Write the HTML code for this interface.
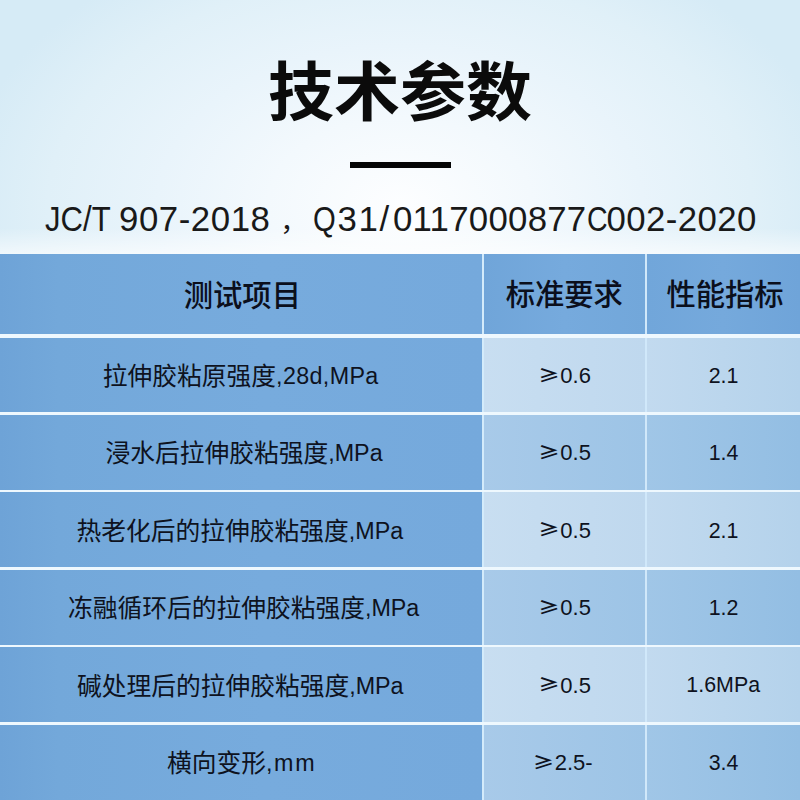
<!DOCTYPE html>
<html lang="zh-CN">
<head>
<meta charset="utf-8">
<title>技术参数</title>
<style>
  html, body { margin: 0; padding: 0; }
  body {
    width: 800px; height: 800px; overflow: hidden; position: relative;
    font-family: "Liberation Sans", "Noto Sans CJK SC", sans-serif;
    color: #111;
    background: #ffffff;
  }
  .top {
    position: absolute; left: 0; top: 0; width: 800px; height: 254px;
    background:
      linear-gradient(to bottom, rgba(255,255,255,0) 228px, rgba(255,255,255,0.6) 254px),
      radial-gradient(ellipse 440px 290px at 50% 205px, #fdfeff 0%, #f3f9fd 30%, #e9f4fb 55%, #e0f0f8 80%, #d6ebf6 100%);
  }
  .title {
    position: absolute; left: 0; width: 800px; top: 44px; height: 96px; line-height: 96px;
    text-align: center; font-size: 66px; font-weight: 700; color: #0b0b0b;
    white-space: nowrap; transform: scaleY(0.957); transform-origin: 50% 78px;
  }
  .bar { position: absolute; left: 349.5px; top: 161.5px; width: 101px; height: 6px; background: #050505; }
  .sub {
    position: absolute; left: 0; width: 800px; top: 196px; height: 48px; line-height: 48px;
    font-size: 34.8px; color: #191919; white-space: pre;
  }
  .sub span { position: absolute; top: -1.5px; }
  #s6 { transform: scaleX(0.82); transform-origin: 0 50%; }
  #s4 { transform: scaleX(0.84); transform-origin: 0 50%; }
  #s1 { transform: scaleX(0.894); transform-origin: 0 50%; }

  .tbl { position: absolute; left: 0; top: 254px; width: 800px; height: 546px; background: #eef8fe; }
  .cell {
    position: absolute; display: flex; align-items: center; justify-content: center;
    white-space: nowrap; font-size: 24.75px; color: #0e1220;
  }
  .cell > span { position: relative; }
  .cj { font-size: 24.75px; }
  .la { font-size: 23.3px; position: relative; top: -1.2px; }
  .v  { font-size: 22px; }
  .c3 .v { font-size: 21.4px; }
  .ge { font-family: "Noto Sans CJK SC", "Liberation Sans", sans-serif; font-size: 21.3px; font-weight: 700; display: inline-block; line-height: 1; transform: scaleY(0.8); transform-origin: 50% 50%; position: relative; top: 0.9px; margin-right: 0.7px; }
  .c1 { left: 0; width: 481.5px; }
  .c2 { left: 483.5px; width: 161.5px; box-shadow: -2px 0 0 #d3ebfb; }
  .c3 { left: 647px; width: 153px; box-shadow: -2px 0 0 #d0e8fa; }
  .hd { top: 0; height: 80px; font-size: 29.3px; font-weight: 500; color: #0b0f1c; }
  .r1 { top: 83.5px;  height: 74.5px; }
  .r2 { top: 160.5px; height: 75px; }
  .r3 { top: 238px;   height: 75px; }
  .r4 { top: 315.5px; height: 75px; }
  .r5 { top: 393px;   height: 75px; }
  .r6 { top: 470.5px; height: 75.5px; }
  .c1 { background: linear-gradient(to right, #6ea3d7 0%, #73a8da 12%, #77abdd 55%, #75a9dc 100%); }
  .hd.c2 { background: linear-gradient(to right, #70a5d9 0%, #76aadd 50%, #72a7da 100%); }
  .hd.c3 { background: linear-gradient(to right, #71a6da 0%, #75a9dc 50%, #6fa4d9 100%); }
  .c2.lt { background: linear-gradient(to right, #c8def1, #bfd8ee); }
  .c3.lt { background: linear-gradient(to right, #c2daef, #b4d2eb); }
  .c2.md { background: linear-gradient(to right, #a8cae9, #9dc4e6); }
  .c3.md { background: linear-gradient(to right, #a0c6e7, #93bee3); }
</style>
</head>
<body>
  <div class="top"></div>
  <div class="title"><span class="m" id="title">技术参数</span></div>
  <div class="bar"></div>
  <div class="sub"><span class="m" id="s1" style="left:45.3px;letter-spacing:0px;">JC/T </span><span class="m" id="s2" style="left:119px;letter-spacing:0.55px;">907-2018 </span><span class="m" id="s3" style="left:280.3px;font-size:27px;top:2.2px;">， </span><span class="m" id="s4" style="left:312.9px;">Q</span><span class="m" id="s4b" style="left:337.5px;letter-spacing:1.7px;">31/</span><span class="m" id="s5" style="left:393px;letter-spacing:0.25px;">0117000877</span><span class="m" id="s6" style="left:586.5px;">C</span><span class="m" id="s7" style="left:606.6px;letter-spacing:0.4px;">002-2020</span></div>
  <div class="tbl">
    <div class="cell hd c1"><span class="m" id="h1" style="left:1.6px;top:-1.5px">测试项目</span></div>
    <div class="cell hd c2"><span class="m" id="h2" style="left:0px;top:-2.0px">标准要求</span></div>
    <div class="cell hd c3"><span class="m" id="h3" style="left:1.5px;top:-2.2px">性能指标</span></div>
    <div class="cell r1 c1"><span class="m" id="r1c1" style="left:0px;top:-0.8px"><span class="cj">拉伸胶粘原强度</span><span class="la" style="letter-spacing:0.35px">,28d,MPa</span></span></div>
    <div class="cell r1 c2 lt"><span class="m v" id="r1c2" style="left:0.35px;top:1.0px"><span class="ge">≥</span>0.6</span></div>
    <div class="cell r1 c3 lt"><span class="m v" id="r1c3" style="left:0px;top:1.7px">2.1</span></div>
    <div class="cell r2 c1"><span class="m" id="r2c1" style="left:3.3px;top:-0.8px"><span class="cj">浸水后拉伸胶粘强度</span><span class="la" style="letter-spacing:0px">,MPa</span></span></div>
    <div class="cell r2 c2 md"><span class="m v" id="r2c2" style="left:0.35px;top:1.0px"><span class="ge">≥</span>0.5</span></div>
    <div class="cell r2 c3 md"><span class="m v" id="r2c3" style="left:0px;top:1.7px">1.4</span></div>
    <div class="cell r3 c1"><span class="m" id="r3c1" style="left:-0.9px;top:-0.8px"><span class="cj">热老化后的拉伸胶粘强度</span><span class="la" style="letter-spacing:0px">,MPa</span></span></div>
    <div class="cell r3 c2 lt"><span class="m v" id="r3c2" style="left:0.35px;top:1.0px"><span class="ge">≥</span>0.5</span></div>
    <div class="cell r3 c3 lt"><span class="m v" id="r3c3" style="left:0px;top:1.7px">2.1</span></div>
    <div class="cell r4 c1"><span class="m" id="r4c1" style="left:2.9px;top:-0.8px"><span class="cj">冻融循环后的拉伸胶粘强度</span><span class="la" style="letter-spacing:0px">,MPa</span></span></div>
    <div class="cell r4 c2 md"><span class="m v" id="r4c2" style="left:0.35px;top:1.0px"><span class="ge">≥</span>0.5</span></div>
    <div class="cell r4 c3 md"><span class="m v" id="r4c3" style="left:0px;top:1.7px">1.2</span></div>
    <div class="cell r5 c1"><span class="m" id="r5c1" style="left:-0.5px;top:-0.8px"><span class="cj">碱处理后的拉伸胶粘强度</span><span class="la" style="letter-spacing:0px">,MPa</span></span></div>
    <div class="cell r5 c2 lt"><span class="m v" id="r5c2" style="left:0.35px;top:1.0px"><span class="ge">≥</span>0.5</span></div>
    <div class="cell r5 c3 lt"><span class="m v v6" id="r5c3" style="left:-0.3px;top:0.9px">1.6MPa</span></div>
    <div class="cell r6 c1"><span class="m" id="r6c1" style="left:0.9px;top:-0.8px"><span class="cj">横向变形</span><span class="la" style="letter-spacing:1.7px">,mm</span></span></div>
    <div class="cell r6 c2 md"><span class="m v" id="r6c2" style="left:-1.55px;top:1.0px"><span class="ge">≥</span>2.5-</span></div>
    <div class="cell r6 c3 md"><span class="m v" id="r6c3" style="left:0px;top:1.7px">3.4</span></div>
  </div>
</body>
</html>
